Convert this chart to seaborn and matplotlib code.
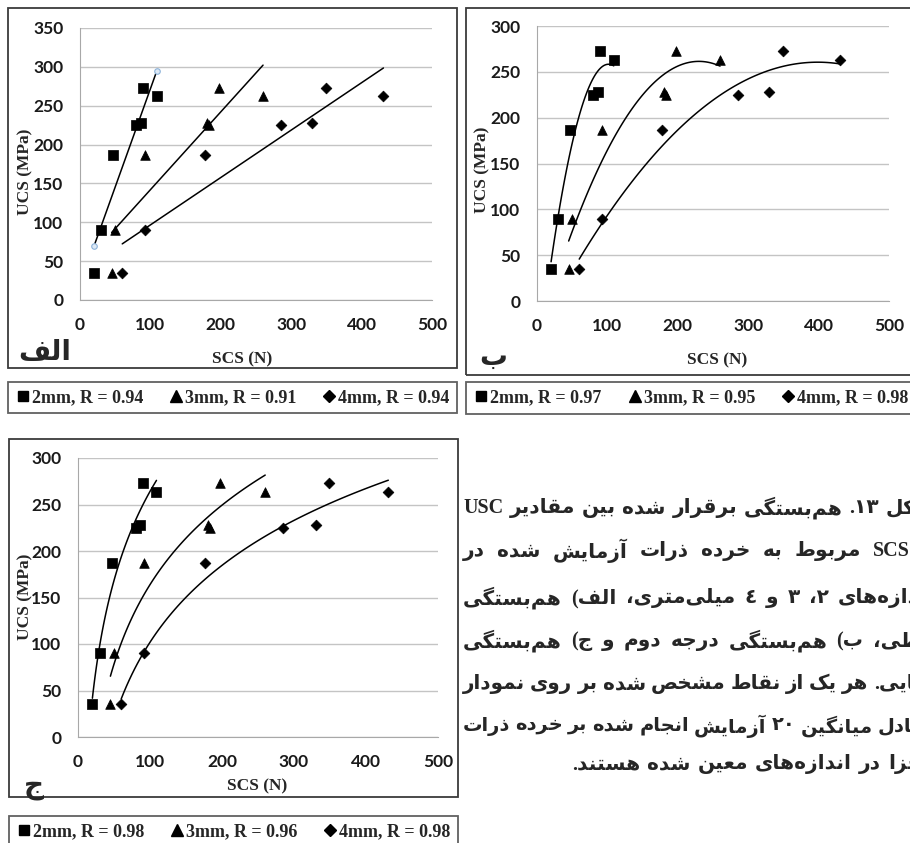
import re

import matplotlib.pyplot as plt
import numpy as np
import seaborn as sns
from matplotlib.lines import Line2D
from matplotlib.patches import Rectangle

sns.set_style('white')
plt.rcParams['font.family'] = ['Lato', 'DejaVu Sans']

# data (same points in all three panels)
scs_2mm = [20, 30, 47, 80, 86, 90, 109]
ucs_2mm = [35, 90, 187, 225, 228, 273, 263]
scs_3mm = [45, 50, 92, 180, 183, 197, 260]
ucs_3mm = [35, 90, 187, 228, 225, 273, 263]
scs_4mm = [60, 92, 177, 285, 330, 349, 431]
ucs_4mm = [35, 90, 187, 225, 228, 273, 263]

sizes = ['2mm', '3mm', '4mm']
r_linear = [0.94, 0.91, 0.94]
r_quad = [0.97, 0.95, 0.98]
r_log = [0.98, 0.96, 0.98]
panel_names = ['الف', 'ب', 'ج']

caption_lines = [
    'شکل ۱۳.  هم\u200cبستگی برقرار شده بین مقادیر USC',
    'و SCS مربوط به خرده ذرات آزمایش شده در',
    'اندازه\u200cهای ۲، ۳ و ٤ میلی\u200cمتری، الف) هم\u200cبستگی',
    'خطی، ب) هم\u200cبستگی درجه دوم و ج) هم\u200cبستگی',
    'نمایی. هر یک از نقاط مشخص شده بر روی نمودار',
    'معادل میانگین ۲۰ آزمایش انجام شده بر خرده ذرات',
    'مجزا در اندازه\u200cهای معین شده هستند.',
]

# contextual forms (isolated, final, initial, medial)
FORMS = {
    '\u0627': '\uFE8D\uFE8E', '\u0622': '\uFE81\uFE82',
    '\u0628': '\uFE8F\uFE90\uFE91\uFE92', '\u067E': '\uFB56\uFB57\uFB58\uFB59',
    '\u062A': '\uFE95\uFE96\uFE97\uFE98', '\u062B': '\uFE99\uFE9A\uFE9B\uFE9C',
    '\u062C': '\uFE9D\uFE9E\uFE9F\uFEA0', '\u0686': '\uFB7A\uFB7B\uFB7C\uFB7D',
    '\u062D': '\uFEA1\uFEA2\uFEA3\uFEA4', '\u062E': '\uFEA5\uFEA6\uFEA7\uFEA8',
    '\u062F': '\uFEA9\uFEAA', '\u0630': '\uFEAB\uFEAC',
    '\u0631': '\uFEAD\uFEAE', '\u0632': '\uFEAF\uFEB0', '\u0698': '\uFB8A\uFB8B',
    '\u0633': '\uFEB1\uFEB2\uFEB3\uFEB4', '\u0634': '\uFEB5\uFEB6\uFEB7\uFEB8',
    '\u0635': '\uFEB9\uFEBA\uFEBB\uFEBC', '\u0636': '\uFEBD\uFEBE\uFEBF\uFEC0',
    '\u0637': '\uFEC1\uFEC2\uFEC3\uFEC4', '\u0638': '\uFEC5\uFEC6\uFEC7\uFEC8',
    '\u0639': '\uFEC9\uFECA\uFECB\uFECC', '\u063A': '\uFECD\uFECE\uFECF\uFED0',
    '\u0641': '\uFED1\uFED2\uFED3\uFED4', '\u0642': '\uFED5\uFED6\uFED7\uFED8',
    '\u06A9': '\uFB8E\uFB8F\uFB90\uFB91', '\u06AF': '\uFB92\uFB93\uFB94\uFB95',
    '\u0644': '\uFEDD\uFEDE\uFEDF\uFEE0', '\u0645': '\uFEE1\uFEE2\uFEE3\uFEE4',
    '\u0646': '\uFEE5\uFEE6\uFEE7\uFEE8', '\u0648': '\uFEED\uFEEE',
    '\u0647': '\uFEE9\uFEEA\uFEEB\uFEEC', '\u06CC': '\uFBFC\uFBFD\uFBFE\uFBFF',
}


def farsi(text):
    # matplotlib has no shaping/bidi, so do a small version by hand
    text = text.replace('\u064A', '\u06CC').replace('\u0643', '\u06A9')
    out = []
    for i, ch in enumerate(text):
        forms = FORMS.get(ch)
        if forms is None:
            if ch != '\u200c':
                out.append(ch)
            continue
        prev = text[i - 1] if i > 0 else ''
        nxt = text[i + 1] if i + 1 < len(text) else ''
        a = len(FORMS.get(prev, '')) == 4
        b = len(forms) == 4 and nxt in FORMS
        out.append(forms[3 if a and b else 1 if a else 2 if b else 0])
    s = ''.join(out)[::-1]
    s = re.sub(r'[A-Za-z0-9\u06F0-\u06F9\u0660-\u0669]+', lambda m: m.group(0)[::-1], s)
    return s.translate(str.maketrans('()', ')('))


W, H = 910, 843
fig = plt.figure(figsize=(W / 100, H / 100), dpi=100)


def px(x0, y0, x1, y1):
    return [x0 / W, 1 - y1 / H, (x1 - x0) / W, (y1 - y0) / H]


def box(x0, y0, x1, y1):
    fig.patches.append(Rectangle((x0 / W, 1 - y1 / H), (x1 - x0) / W, (y1 - y0) / H,
                                 transform=fig.transFigure, fill=False,
                                 ec='#3a3a3a', lw=1.3))


serif = {'family': ['Liberation Serif', 'DejaVu Sans'], 'weight': 'bold'}
series = [(scs_2mm, ucs_2mm, 's', 60), (scs_3mm, ucs_3mm, '^', 48), (scs_4mm, ucs_4mm, 'D', 30)]


def panel(rect, ymax, fit, name, name_xy, xlab_xy, ylab_xy, frame, leg_rect, rvals):
    ax = fig.add_axes(px(*rect))
    for x, y, m, s in series:
        sns.scatterplot(x=x, y=y, marker=m, s=s, color='black', edgecolor='black',
                        linewidth=0.5, ax=ax, zorder=3, clip_on=False)
        sns.regplot(x=x, y=y, scatter=False, ci=None, color='black', ax=ax,
                    line_kws={'lw': 1.1}, truncate=True, **fit)
    ax.set_xlim(0, 500)
    ax.set_ylim(0, ymax)
    ax.set_xticks(range(0, 501, 100))
    ax.set_yticks(range(0, ymax + 1, 50))
    ax.grid(axis='y', color='#c4c4c4', lw=1)
    ax.grid(axis='x', visible=False)
    ax.set_axisbelow(True)
    for side in ['top', 'right']:
        ax.spines[side].set_visible(False)
    for side in ['left', 'bottom']:
        ax.spines[side].set_color('#a8a8a8')
    ax.tick_params(length=5, color='#a8a8a8', labelsize=12.5, pad=7, labelcolor='#1a1a1a')
    for lbl in ax.get_xticklabels() + ax.get_yticklabels():
        lbl.set_fontweight('bold')
    ax.set_xlabel('')
    ax.set_ylabel('')
    fig.text(xlab_xy[0] / W, 1 - xlab_xy[1] / H, 'SCS (N)', ha='center', va='center',
             size=12.5, color='#262626', **serif)
    fig.text(ylab_xy[0] / W, 1 - ylab_xy[1] / H, 'UCS (MPa)', ha='center', va='center',
             rotation=90, size=12.5, color='#262626', **serif)
    fig.text(name_xy[0] / W, 1 - name_xy[1] / H, farsi(name), ha='center', va='center',
             size=20, weight='bold', family='DejaVu Sans')
    box(*frame)
    lax = fig.add_axes(px(*leg_rect))
    lax.set_axis_off()
    handles = [Line2D([], [], marker=m, ls='', color='black', ms=ms)
               for m, ms in zip(['s', '^', 'D'], [7, 8, 6.5])]
    labels = [f'{sz}, R = {r:.2f}' for sz, r in zip(sizes, rvals)]
    leg = lax.legend(handles, labels, loc='center', ncol=3, mode='expand',
                     bbox_to_anchor=(0, 0, 1, 1), borderaxespad=0, frameon=True,
                     fancybox=False, edgecolor='#3a3a3a', handletextpad=0.05,
                     handlelength=0.9, prop={'family': 'Liberation Serif',
                                             'weight': 'bold', 'size': 13})
    leg.get_frame().set_linewidth(1.3)
    return ax


ax1 = panel((80, 28, 432, 300), 350, {}, panel_names[0], (45, 352), (242, 359),
            (25, 172), (8, 8, 457, 368), (8, 377, 457, 418), r_linear)
# end points of the selected 2mm trend line
coef = np.polyfit(scs_2mm, ucs_2mm, 1)
ends = [min(scs_2mm), max(scs_2mm)]
ax1.plot(ends, np.polyval(coef, ends), 'o', ms=4, mfc='#dce8f5', mec='#8db3d9',
         mew=0.8, zorder=4)

panel((537, 26, 889, 301), 300, {'order': 2}, panel_names[1], (493, 357), (717, 360),
      (482, 170), (466, 8, 916, 375), (466, 378, 916, 418), r_quad)
panel((78, 458, 438, 737), 300, {'logx': True}, panel_names[2], (34, 786), (257, 786),
      (25, 597), (9, 439, 458, 797), (9, 812, 458, 852), r_log)

# caption, justified and cropped on both sides like the source page
cax = fig.add_axes(px(462, 480, 910, 790))
cax.set_axis_off()
renderer = fig.canvas.get_renderer()
line_y = [508, 551, 598, 641, 684, 726, 764]
left, right, size, min_gap = 463, 935, 14.5, 5
for k, (s, y) in enumerate(zip(caption_lines, line_y)):
    words = [w for w in farsi(s).split(' ') if w]
    texts = [cax.text(0, 1 - y / H, w, transform=fig.transFigure, ha='left',
                      va='center', size=size, clip_on=True, **serif) for w in words]
    widths = [t.get_window_extent(renderer).width for t in texts]
    last = k == len(caption_lines) - 1
    room = right - left - min_gap * (len(words) - 1)
    if not last and sum(widths) > room:
        for t in texts:
            t.set_fontsize(size * room / sum(widths))
        widths = [t.get_window_extent(renderer).width for t in texts]
    if last:
        gap = 7
        x = right - sum(widths) - gap * (len(words) - 1)
    else:
        gap = (right - left - sum(widths)) / (len(words) - 1)
        x = left
    for t, w in zip(texts, widths):
        t.set_x(x / W)
        x += w + gap

fig.savefig('out.png', dpi=100)
